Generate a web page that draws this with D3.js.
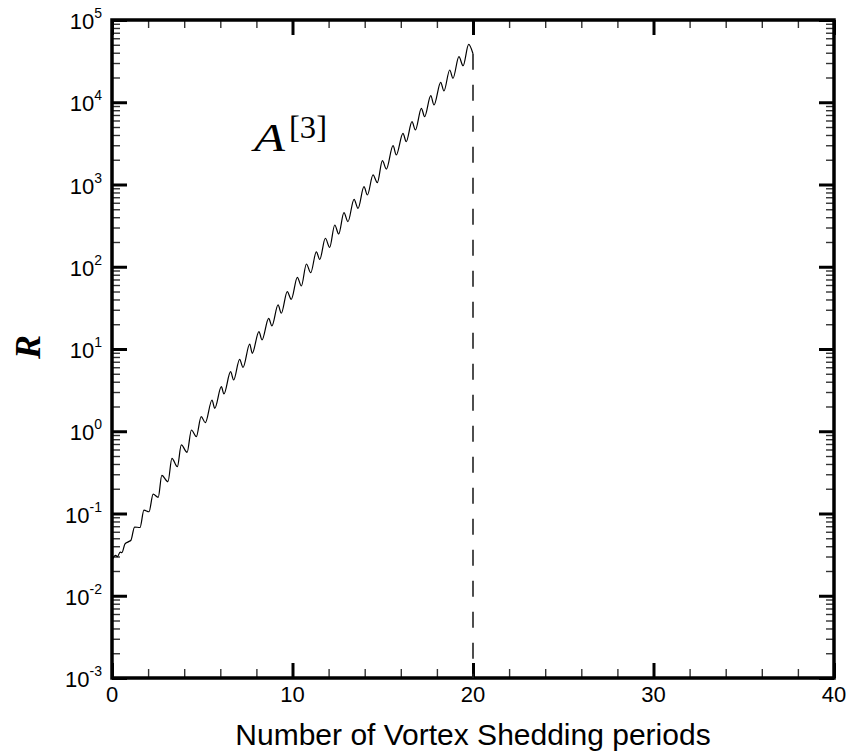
<!DOCTYPE html>
<html>
<head>
<meta charset="utf-8">
<script src="https://cdn.jsdelivr.net/npm/d3@7"></script>
<style>
  html, body { margin: 0; padding: 0; background: #fff; }
  svg { display: block; }
</style>
</head>
<body>
<svg id="chart" width="847" height="751"></svg>
<script>
// ---- data ----
const periods = [
  0, 0.2, 0.3, 0.45, 0.55, 0.72, 0.9, 1.05, 1.25, 1.55,
  1.77, 2.05, 2.28, 2.56, 2.76, 3.10, 3.32, 3.62, 3.84, 4.16,
  4.40, 4.67, 4.94, 5.17, 5.54, 5.69, 6.06, 6.20, 6.57, 6.74,
  7.07, 7.26, 7.63, 7.77, 8.14, 8.31, 8.68, 8.86, 9.20, 9.38,
  9.71, 9.93, 10.27, 10.49, 10.77, 11.01, 11.32, 11.51, 11.82, 12.06,
  12.34, 12.56, 12.85, 13.07, 13.41, 13.63, 13.96, 14.15, 14.46, 14.70,
  14.98, 15.20, 15.57, 15.75, 16.12, 16.30, 16.62, 16.81, 17.14, 17.32,
  17.66, 17.84, 18.21, 18.39, 18.71, 18.89, 19.22, 19.45, 19.76, 20.0
];
const R = [
  2.72e-2, 3.09e-2, 2.99e-2, 3.39e-2, 3.35e-2, 4.27e-2, 4.52e-2, 4.73e-2, 6.84e-2, 6.76e-2,
  1.10e-1, 1.05e-1, 1.72e-1, 1.57e-1, 2.90e-1, 2.44e-1, 4.69e-1, 3.71e-1, 6.81e-1, 5.55e-1,
  1.035, 0.859, 1.51, 1.27, 2.40, 1.90, 3.48, 2.84, 5.30, 4.20,
  7.50, 5.98, 11.5, 8.87, 16.3, 12.9, 23.6, 19.1, 34.3, 27.2,
  49.8, 40.2, 74.3, 58.3, 108, 84.7, 152, 123, 222, 172,
  322, 250, 454, 353, 661, 513, 940, 745, 1306, 1052,
  1950, 1542, 2965, 2286, 4188, 3319, 5808, 4603, 8433, 6683,
  12023, 9268, 17458, 13709, 24660, 19543, 35810, 27797, 50582, 38905
];
const dashX = 20;
const xMajorTicks = [0, 10, 20, 30, 40];
const xMinorTicks = [2, 4, 6, 8, 12, 14, 16, 18, 22, 24, 26, 28, 32, 34, 36, 38];
const yExponents = [-3, -2, -1, 0, 1, 2, 3, 4, 5];
const yMinorMultipliers = [2, 3, 4, 5, 6, 7, 8, 9];
const xTitle = "Number of Vortex Shedding periods";
const yTitle = "R";

// ---- layout ----
const L = 112, Rr = 834, T = 20, B = 678;
const svg = d3.select("#chart");
const x = d3.scaleLinear().domain([0, 40]).range([L, Rr]);
const y = d3.scaleLog().domain([1e-3, 1e5]).range([B, T]);

const yMajor = yExponents.map(e => Math.pow(10, e));
const yMinor = [];
yExponents.slice(0, -1).forEach(e => yMinorMultipliers.forEach(m => yMinor.push(m * Math.pow(10, e))));

function styleAxis(g, w, col) {
  g.select(".domain").remove();
  g.selectAll(".tick line").attr("stroke", col).attr("stroke-width", w);
  g.selectAll(".tick text").remove();
}
// minor ticks
svg.append("g").attr("transform", `translate(${L},0)`)
  .call(d3.axisLeft(y).tickValues(yMinor).tickSize(-8).tickFormat(""))
  .call(g => styleAxis(g, 1.4, "#333"));
svg.append("g").attr("transform", `translate(${Rr},0)`)
  .call(d3.axisRight(y).tickValues(yMinor).tickSize(-8).tickFormat(""))
  .call(g => styleAxis(g, 1.4, "#333"));
svg.append("g").attr("transform", `translate(0,${B})`)
  .call(d3.axisBottom(x).tickValues(xMinorTicks).tickSize(-9).tickFormat(""))
  .call(g => styleAxis(g, 1.4, "#333"));
svg.append("g").attr("transform", `translate(0,${T})`)
  .call(d3.axisTop(x).tickValues(xMinorTicks).tickSize(-8).tickFormat(""))
  .call(g => styleAxis(g, 1.4, "#333"));
// major ticks
svg.append("g").attr("transform", `translate(${L},0)`)
  .call(d3.axisLeft(y).tickValues(yMajor).tickSize(-15).tickFormat(""))
  .call(g => styleAxis(g, 3, "#000"));
svg.append("g").attr("transform", `translate(${Rr},0)`)
  .call(d3.axisRight(y).tickValues(yMajor).tickSize(-15).tickFormat(""))
  .call(g => styleAxis(g, 3, "#000"));
svg.append("g").attr("transform", `translate(0,${B})`)
  .call(d3.axisBottom(x).tickValues(xMajorTicks).tickSize(-15).tickFormat(""))
  .call(g => styleAxis(g, 3, "#000"));
svg.append("g").attr("transform", `translate(0,${T})`)
  .call(d3.axisTop(x).tickValues(xMajorTicks).tickSize(-15).tickFormat(""))
  .call(g => styleAxis(g, 3, "#000"));

// frame
svg.append("rect").attr("x", L).attr("y", T).attr("width", Rr - L).attr("height", B - T)
  .attr("fill", "none").attr("stroke", "#000").attr("stroke-width", 3.5);

// data line
const pts = periods.map((p, i) => [p, R[i]]);
svg.append("path")
  .datum(pts)
  .attr("fill", "none")
  .attr("stroke", "#000")
  .attr("stroke-width", 1.2)
  .attr("d", d3.line().x(d => x(d[0])).y(d => y(d[1])).curve(d3.curveMonotoneX));

// dashed vertical line at end
svg.append("line")
  .attr("x1", x(dashX)).attr("x2", x(dashX))
  .attr("y1", y(R[R.length - 1])).attr("y2", y(1e-3))
  .attr("stroke", "#222").attr("stroke-width", 1.6)
  .attr("stroke-dasharray", "16,15");

// y tick labels
const font = "'Liberation Sans', Arial, Helvetica, sans-serif";
yExponents.forEach(e => {
  const t = svg.append("text")
    .attr("x", 102).attr("y", y(Math.pow(10, e)) + 9)
    .attr("text-anchor", "end")
    .attr("font-family", font).attr("font-size", 22).attr("fill", "#000");
  t.append("tspan").text("10");
  t.append("tspan").attr("dy", -11).attr("font-size", 14).text(String(e));
});
// x tick labels
xMajorTicks.forEach(v => {
  svg.append("text")
    .attr("x", x(v)).attr("y", 702)
    .attr("text-anchor", "middle")
    .attr("font-family", font).attr("font-size", 22).attr("fill", "#000")
    .text(String(v));
});
// x title
svg.append("text")
  .attr("x", (L + Rr) / 2).attr("y", 745)
  .attr("text-anchor", "middle")
  .attr("font-family", font).attr("font-size", 30).attr("fill", "#000")
  .text(xTitle);
// y title
svg.append("text")
  .attr("transform", "translate(40,347) rotate(-90)")
  .attr("text-anchor", "middle")
  .attr("font-family", "'Liberation Serif', 'Times New Roman', serif")
  .attr("font-style", "italic").attr("font-weight", "bold")
  .attr("font-size", 36).attr("fill", "#000")
  .text(yTitle);

// annotation A^[3]
const serif = "'Liberation Serif', 'Times New Roman', serif";
svg.append("text")
  .attr("x", 254).attr("y", 151)
  .attr("font-family", serif).attr("font-style", "italic").attr("font-size", 41)
  .attr("textLength", 31).attr("lengthAdjust", "spacingAndGlyphs")
  .attr("fill", "#000").text("A");
svg.append("text")
  .attr("x", 289).attr("y", 138)
  .attr("font-family", serif).attr("font-size", 31)
  .attr("textLength", 38).attr("lengthAdjust", "spacingAndGlyphs")
  .attr("fill", "#000").text("[3]");
</script>
</body>
</html>
